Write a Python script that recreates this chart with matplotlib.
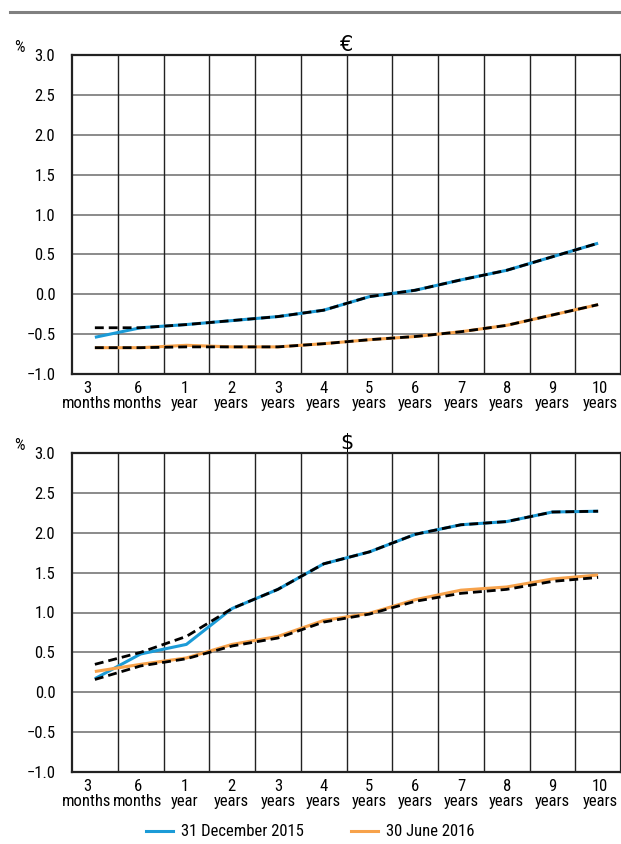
import matplotlib
matplotlib.use("Agg")
import matplotlib.pyplot as plt
from matplotlib.lines import Line2D
from matplotlib.transforms import ScaledTranslation

plt.rcParams['font.family'] = ['Roboto Condensed', 'DejaVu Sans']

categories = ["3\nmonths", "6\nmonths", "1\nyear", "2\nyears", "3\nyears", "4\nyears",
              "5\nyears", "6\nyears", "7\nyears", "8\nyears", "9\nyears", "10\nyears"]

eur_dec15 = [-0.54, -0.42, -0.38, -0.33, -0.28, -0.20, -0.03, 0.05, 0.18, 0.30, 0.47, 0.64]
eur_dec15_fit = [-0.42, -0.42, -0.38, -0.33, -0.28, -0.20, -0.03, 0.05, 0.18, 0.30, 0.47, 0.64]
eur_jun16 = [-0.67, -0.67, -0.64, -0.66, -0.66, -0.62, -0.57, -0.53, -0.47, -0.39, -0.26, -0.13]
eur_jun16_fit = [-0.67, -0.67, -0.66, -0.66, -0.66, -0.62, -0.57, -0.53, -0.47, -0.39, -0.26, -0.13]

usd_dec15 = [0.17, 0.48, 0.60, 1.05, 1.29, 1.61, 1.76, 1.98, 2.10, 2.14, 2.26, 2.27]
usd_dec15_fit = [0.35, 0.50, 0.70, 1.05, 1.29, 1.61, 1.76, 1.98, 2.10, 2.14, 2.26, 2.27]
usd_jun16 = [0.26, 0.35, 0.43, 0.60, 0.70, 0.90, 0.99, 1.16, 1.28, 1.32, 1.42, 1.47]
usd_jun16_fit = [0.16, 0.33, 0.42, 0.58, 0.68, 0.88, 0.98, 1.14, 1.24, 1.29, 1.39, 1.44]

yticks = [3.0, 2.5, 2.0, 1.5, 1.0, 0.5, 0.0, -0.5, -1.0]
ytick_labels = ["3.0", "2.5", "2.0", "1.5", "1.0", "0.5", "0.0", "\u22120.5", "\u22121.0"]

BLUE = "#1b9bd7"
ORANGE = "#f7a24b"

W, H = 621, 844
fig = plt.figure(figsize=(W / 100, H / 100), dpi=100)

# top rule
fig.add_artist(Line2D([10 / W, 1.0], [1 - 12 / H, 1 - 12 / H], color="#808080", lw=2.2))

label_shift_px = [-8, -3, -2, -1, 0, 0, 0, 0, 0, 0, 0, 2]

def panel(top_px, bot_px, title, s1, s1f, s2, s2f):
    ax = fig.add_axes([72 / W, 1 - bot_px / H, (W - 72) / W, (bot_px - top_px) / H])
    x = list(range(len(categories)))
    ax.plot(x, s1, color=BLUE, lw=2.2, solid_capstyle="butt", zorder=3)
    ax.plot(x, s2, color=ORANGE, lw=2.2, solid_capstyle="butt", zorder=3)
    ax.plot(x, s1f, color="black", lw=2.0, ls=(0, (3.2, 1.8)), zorder=4)
    ax.plot(x, s2f, color="black", lw=2.0, ls=(0, (3.2, 1.8)), zorder=4)
    ax.set_xlim(-0.5, len(categories) - 0.5)
    ax.set_ylim(-1.0, 3.0)
    ax.set_yticks(yticks)
    ax.set_yticklabels(ytick_labels, fontsize=12)
    ax.set_xticks(x)
    ax.set_xticklabels(categories, fontsize=12, linespacing=1.0)
    ax.tick_params(length=0, pad=5)
    ax.tick_params(axis="y", pad=12)
    for lab, dx in zip(ax.get_xticklabels(), label_shift_px):
        lab.set_transform(lab.get_transform() + ScaledTranslation(dx / 100, 0, fig.dpi_scale_trans))
    for v in yticks[1:-1]:
        ax.axhline(v, color="#777777", lw=1.2, zorder=1)
    for k in range(1, len(categories)):
        ax.axvline(k - 0.5, color="#222222", lw=1.0, zorder=1)
    for s in ax.spines.values():
        s.set_color("#222222")
        s.set_linewidth(1.6)
    ax.set_title(title, fontsize=15, pad=3, family=["DejaVu Sans"])
    fig.text(14 / W, 1 - (top_px - 7) / H, "%", fontsize=12, ha="left", va="center")
    return ax

panel(55, 374, "\u20ac", eur_dec15, eur_dec15_fit, eur_jun16, eur_jun16_fit)
panel(453, 772, "$", usd_dec15, usd_dec15_fit, usd_jun16, usd_jun16_fit)

handles = [Line2D([], [], color=BLUE, lw=2.2), Line2D([], [], color=ORANGE, lw=2.2)]
fig.legend(handles, ["31 December 2015", "30 June 2016"], loc="center",
           bbox_to_anchor=(0.5, 1 - 832 / H), ncol=2, frameon=False, fontsize=12,
           handlelength=1.6, handletextpad=0.5, columnspacing=2.8)

fig.savefig("out.png", dpi=100)
